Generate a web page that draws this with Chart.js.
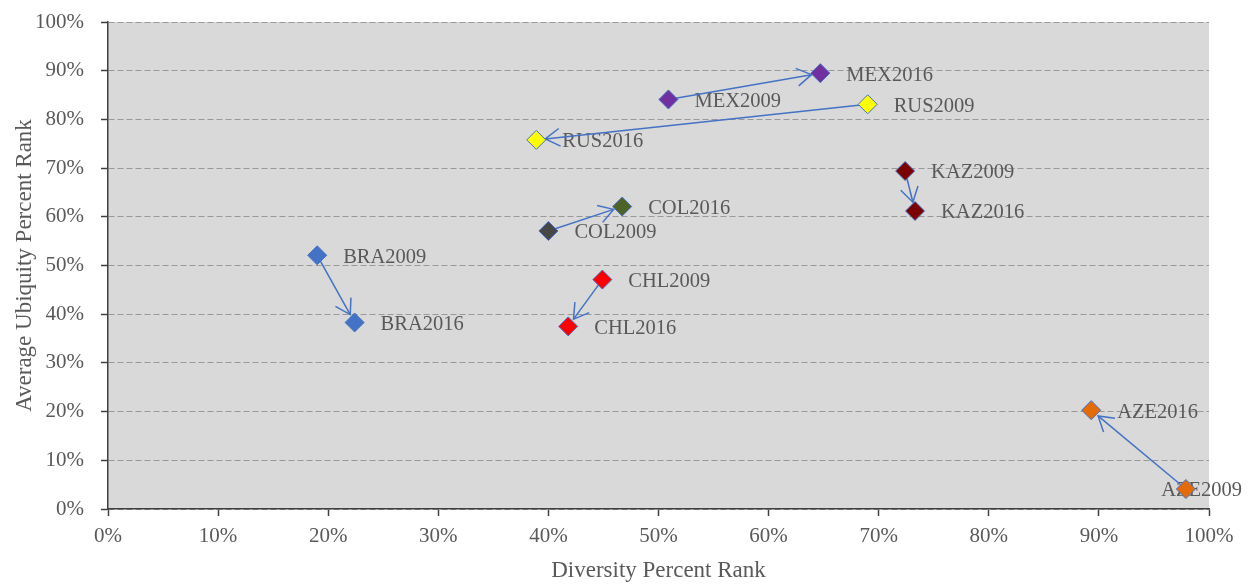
<!DOCTYPE html>
<html>
<head>
<meta charset="utf-8">
<script src="https://cdn.jsdelivr.net/npm/chart.js@4"></script>
<style>
    html, body { margin: 0; padding: 0; background: #fff; }
</style>
</head>
<body>
<canvas id="chart" width="1251" height="585"></canvas>
<script>
// values in percent
const countries = ['BRA', 'CHL', 'COL', 'RUS', 'MEX', 'KAZ', 'AZE'];
const years = ['2009', '2016'];
const diversity2009 = [19.0, 44.9, 40.0, 69.0, 50.9, 72.4, 97.9];
const ubiquity2009 = [52.1, 47.1, 57.1, 83.1, 84.1, 69.4, 4.1];
const diversity2016 = [22.4, 41.8, 46.7, 38.9, 64.7, 73.3, 89.3];
const ubiquity2016 = [38.3, 37.5, 62.1, 75.8, 89.5, 61.2, 20.3];
const colors2009 = ['#4472c4', '#ff0000', '#474747', '#ffff00', '#7030a0', '#7b0000', '#e36c09'];
const colors2016 = ['#4472c4', '#ff0000', '#4f6228', '#ffff00', '#7030a0', '#7b0000', '#e36c09'];

const SERIF = "'Liberation Serif', 'Times New Roman', serif";
const TEXT = '#595959';
const BLUE = '#4472c4';

const toPoints = (xs, ys) => xs.map((v, i) => ({ x: v, y: ys[i] }));

const plotBg = {
    id: 'plotBg',
    beforeDraw(chart) {
        const { ctx, chartArea: a } = chart;
        ctx.save();
        ctx.fillStyle = '#d9d9d9';
        ctx.fillRect(a.left, a.top, a.right - a.left, a.bottom - a.top);
        ctx.restore();
    }
};

// labels first, then the arrows, then the markers sit on top
const labelsAndArrows = {
    id: 'labelsAndArrows',
    beforeDatasetsDraw(chart) {
        const { ctx, scales: { x, y } } = chart;
        ctx.save();
        ctx.font = '20.5px ' + SERIF;
        ctx.fillStyle = TEXT;
        ctx.textBaseline = 'middle';
        const sets = [[diversity2009, ubiquity2009], [diversity2016, ubiquity2016]];
        sets.forEach(([xs, ys], k) => {
            countries.forEach((c, i) => {
                const text = c + years[k];
                const w = ctx.measureText(text).width;
                let px = x.getPixelForValue(xs[i]) + 26;
                if (px + w > chart.width - 9) px = chart.width - 9 - w;
                ctx.fillText(text, px, y.getPixelForValue(ys[i]) + 2);
            });
        });

        ctx.strokeStyle = BLUE;
        ctx.lineWidth = 1.5;
        countries.forEach((c, i) => {
            const x1 = x.getPixelForValue(diversity2009[i]);
            const y1 = y.getPixelForValue(ubiquity2009[i]);
            const x2 = x.getPixelForValue(diversity2016[i]);
            const y2 = y.getPixelForValue(ubiquity2016[i]);
            const ang = Math.atan2(y2 - y1, x2 - x1);
            const tx = x2 - 9 * Math.cos(ang);
            const ty = y2 - 9 * Math.sin(ang);
            ctx.beginPath();
            ctx.moveTo(x1, y1);
            ctx.lineTo(tx, ty);
            ctx.stroke();
            ctx.beginPath();
            ctx.moveTo(tx - 17 * Math.cos(ang - 0.55), ty - 17 * Math.sin(ang - 0.55));
            ctx.lineTo(tx, ty);
            ctx.lineTo(tx - 17 * Math.cos(ang + 0.55), ty - 17 * Math.sin(ang + 0.55));
            ctx.stroke();
        });
        ctx.restore();
    }
};

new Chart(document.getElementById('chart').getContext('2d'), {
    type: 'scatter',
    data: {
        datasets: [
            {
                label: years[0],
                data: toPoints(diversity2009, ubiquity2009),
                backgroundColor: colors2009,
                borderColor: BLUE,
                borderWidth: 1,
                pointStyle: 'rectRot',
                pointRadius: 9.5,
                pointHoverRadius: 9.5
            },
            {
                label: years[1],
                data: toPoints(diversity2016, ubiquity2016),
                backgroundColor: colors2016,
                borderColor: BLUE,
                borderWidth: 1,
                pointStyle: 'rectRot',
                pointRadius: 9.5,
                pointHoverRadius: 9.5
            }
        ]
    },
    options: {
        responsive: false,
        animation: false,
        events: [],
        layout: { padding: { top: 22, right: 42, left: 0, bottom: 0 } },
        plugins: {
            legend: { display: false },
            tooltip: { enabled: false }
        },
        scales: {
            x: {
                type: 'linear',
                min: 0,
                max: 100,
                afterFit: (s) => { s.height = 76; },
                ticks: {
                    stepSize: 10,
                    padding: 8,
                    color: TEXT,
                    font: { family: SERIF, size: 21 },
                    callback: (v) => v + '%'
                },
                grid: { drawOnChartArea: false, drawTicks: true, tickLength: 7, tickColor: '#404040', tickWidth: 1.5 },
                border: { color: '#404040', width: 1.5 },
                title: {
                    display: true,
                    text: 'Diversity Percent Rank',
                    color: TEXT,
                    font: { family: SERIF, size: 23 },
                    padding: { top: 0, bottom: 0 }
                }
            },
            y: {
                type: 'linear',
                min: 0,
                max: 100,
                afterFit: (s) => {
                    s.width = 108;
                    s.paddingTop = 0;
                    s.paddingBottom = 0;
                },
                ticks: {
                    stepSize: 10,
                    padding: 17,
                    color: TEXT,
                    font: { family: SERIF, size: 21 },
                    callback: (v) => v + '%'
                },
                grid: { color: '#999999', lineWidth: 1, drawTicks: true, tickLength: 7, tickColor: '#404040', tickWidth: 1.5, tickBorderDash: [] },
                border: { color: '#404040', width: 1.5, dash: [6, 3] },
                title: {
                    display: true,
                    text: 'Average Ubiquity Percent Rank',
                    color: TEXT,
                    font: { family: SERIF, size: 23 },
                    padding: { top: 11, bottom: 0 }
                }
            }
        }
    },
    plugins: [plotBg, labelsAndArrows]
});
</script>
</body>
</html>
